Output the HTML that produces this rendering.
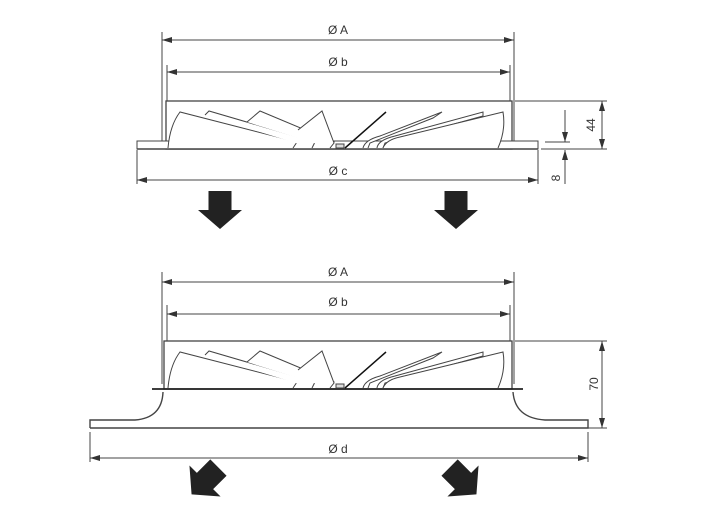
<!DOCTYPE html>
<html><head><style>
html,body{margin:0;padding:0;background:#fff;}
svg{display:block;}
text{font-family:"Liberation Sans",sans-serif;font-size:12px;fill:#333;}
</style></head><body>
<svg width="711" height="526" viewBox="0 0 711 526" xmlns="http://www.w3.org/2000/svg">
<defs>
<marker id="a" viewBox="0 0 10 6" refX="10" refY="3" markerWidth="10" markerHeight="6" orient="auto-start-reverse" markerUnits="userSpaceOnUse"><path d="M0,0L10,3L0,6z" fill="#333"/></marker>
<path id="arr" d="M-11.5,-19H11.5V0H22L0,19L-22,0H-11.5Z"/>
<g id="blades" fill="#fff" stroke="#444" stroke-width="1">
<path d="M168,148 Q170,125 180,112 L297,142 L293,148"/>
<path d="M205,115 L209,111 L315,142 L312,148"/>
<path d="M247,122 L260,111 L334,142 L330,148"/>
<path d="M298,130 L322,111 L334,143 L330,148"/>
<path d="M345,148 L386,112" stroke="#111" stroke-width="1.5"/>
<path d="M363,148 Q365,140 380,136 L442,112 L433,118 L370,143 L368,148"/>
<path d="M377,148 Q378,140 395,136 L483,112 L483,116 L385,143 L383,148"/>
<path d="M383,148 Q386,140 400,137 L503,112 Q506,130 498,148"/>
<rect x="336" y="144" width="8" height="4" fill="#ddd"/>
</g>
</defs>
<g stroke="#444" fill="none" stroke-width="1">
<line x1="162" y1="32" x2="162" y2="142"/>
<line x1="514" y1="32" x2="514" y2="142"/>
<line x1="162" y1="40" x2="514" y2="40" marker-start="url(#a)" marker-end="url(#a)"/>
<line x1="167" y1="65" x2="167" y2="101"/>
<line x1="510" y1="65" x2="510" y2="101"/>
<line x1="167" y1="72" x2="510" y2="72" marker-start="url(#a)" marker-end="url(#a)"/>
<rect x="166" y="101" width="346" height="48" stroke-width="1.3"/>
<rect x="137" y="141" width="401" height="8" fill="#fff"/>
<line x1="137" y1="149" x2="538" y2="149" stroke-width="1.6"/>
<line x1="137" y1="150" x2="137" y2="184"/>
<line x1="538" y1="150" x2="538" y2="184"/>
<line x1="137" y1="180" x2="538" y2="180" marker-start="url(#a)" marker-end="url(#a)"/>
<line x1="515" y1="101" x2="607" y2="101"/>
<line x1="541" y1="149" x2="607" y2="149"/>
<line x1="602" y1="101" x2="602" y2="149" marker-start="url(#a)" marker-end="url(#a)"/>
<line x1="545" y1="142" x2="570" y2="142"/>
<line x1="565" y1="110" x2="565" y2="142" marker-end="url(#a)"/>
<line x1="565" y1="184" x2="565" y2="150" marker-end="url(#a)"/>
<line x1="162" y1="272" x2="162" y2="384"/>
<line x1="514" y1="272" x2="514" y2="384"/>
<line x1="162" y1="282" x2="514" y2="282" marker-start="url(#a)" marker-end="url(#a)"/>
<line x1="167" y1="305" x2="167" y2="341"/>
<line x1="510" y1="305" x2="510" y2="341"/>
<line x1="167" y1="314" x2="510" y2="314" marker-start="url(#a)" marker-end="url(#a)"/>
<rect x="164" y="341" width="348" height="48" stroke-width="1.3"/>
<line x1="152" y1="389" x2="523" y2="389" stroke-width="1.8" stroke="#222"/>
<path d="M90,428 L90,420 L135,420 Q162,418 163,392 M90,428 L588,428 L588,420 L545,420 Q515,418 513,392" stroke-width="1.4"/>
<line x1="90" y1="432" x2="90" y2="462"/>
<line x1="588" y1="432" x2="588" y2="462"/>
<line x1="90" y1="458" x2="588" y2="458" marker-start="url(#a)" marker-end="url(#a)"/>
<line x1="515" y1="341" x2="607" y2="341"/>
<line x1="575" y1="428" x2="607" y2="428"/>
<line x1="602" y1="341" x2="602" y2="428" marker-start="url(#a)" marker-end="url(#a)"/>
</g>
<use href="#blades"/>
<use href="#blades" transform="translate(0,240)"/>
<g fill="#222">
<use href="#arr" transform="translate(220,210)"/>
<use href="#arr" transform="translate(456,210)"/>
<use href="#arr" transform="translate(205,481) rotate(45)"/>
<use href="#arr" transform="translate(463,481) rotate(-45)"/>
</g>
<text x="338" y="34" text-anchor="middle">Ø A</text>
<text x="338" y="66" text-anchor="middle">Ø b</text>
<text x="338" y="175" text-anchor="middle">Ø c</text>
<text x="338" y="276" text-anchor="middle">Ø A</text>
<text x="338" y="306" text-anchor="middle">Ø b</text>
<text x="338" y="453" text-anchor="middle">Ø d</text>
<text transform="translate(595,125) rotate(-90)" text-anchor="middle">44</text>
<text transform="translate(560,178) rotate(-90)" text-anchor="middle">8</text>
<text transform="translate(598,384) rotate(-90)" text-anchor="middle">70</text>
</svg>
</body></html>
